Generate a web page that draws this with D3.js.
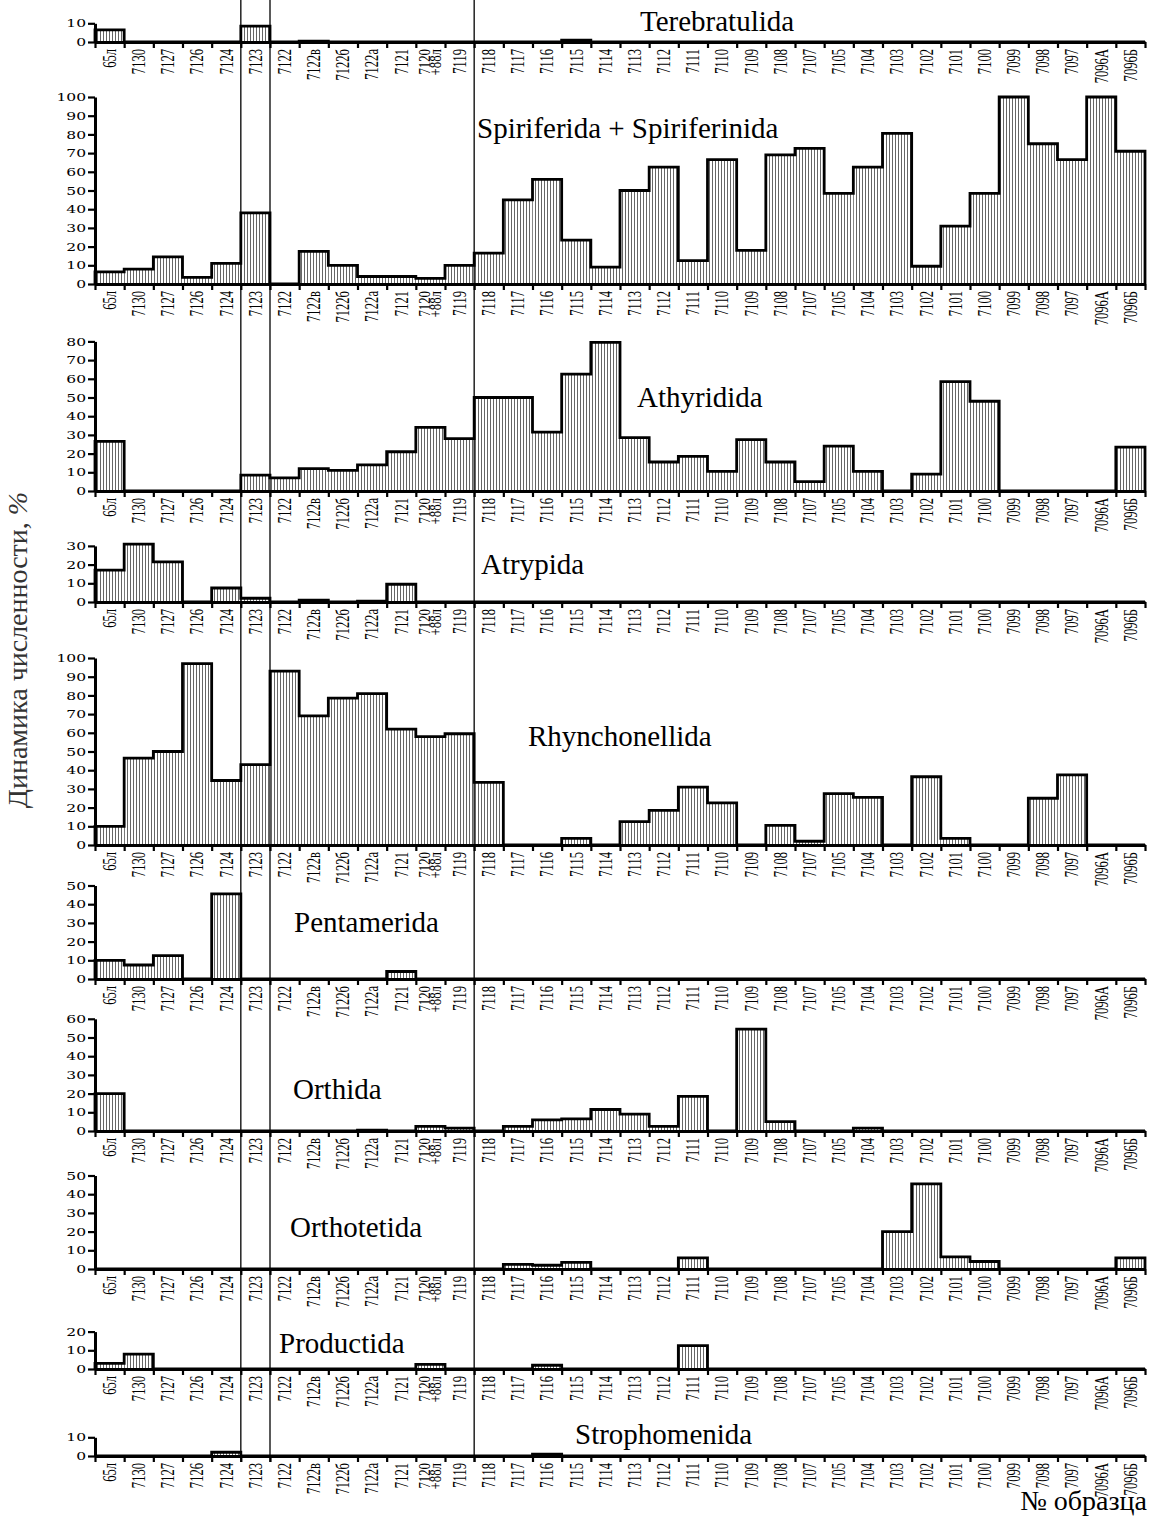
<!DOCTYPE html>
<html>
<head>
<meta charset="utf-8">
<script src="https://cdn.jsdelivr.net/npm/d3@7"></script>
<style>
  body { margin: 0; background: #fff; }
  svg { display: block; }
  .xaxis .domain { stroke-width: 3; }
  .xaxis .tick line { stroke-width: 2.2; }
  .yaxis .domain { stroke-width: 3; }
  .yaxis .tick line { stroke-width: 2.2; }
</style>
</head>
<body>
<div id="chart"></div>
<script>
// номера образцов
const samples = ["65л", "7130", "7127", "7126", "7124", "7123", "7122", "7122в", "7122б", "7122а",
  "7121", "7120\n+88л", "7119", "7118", "7117", "7116", "7115", "7114", "7113", "7112",
  "7111", "7110", "7109", "7108", "7107", "7105", "7104", "7103", "7102", "7101",
  "7100", "7099", "7098", "7097", "7096А", "7096Б"];

// доля отряда, %
const terebratulida = [6.5, 0, 0, 0, 0, 8.5, 0, 0.5, 0, 0, 0, 0, 0, 0, 0, 0, 1, 0, 0, 0,
  0, 0, 0, 0, 0, 0, 0, 0, 0, 0, 0, 0, 0, 0, 0, 0];
const spiriferida = [6.5, 8, 14.5, 3.5, 11, 38, 0, 17.5, 10, 4, 4, 3, 10, 16.5, 45, 56, 23.5, 9, 50, 62.5,
  12.5, 66.5, 18, 69, 72.5, 48.5, 62.5, 80.5, 9.5, 31, 48.5, 100, 75, 66.5, 100, 71];
const athyridida = [26.5, 0, 0, 0, 0, 8.5, 7, 12, 11, 14, 21, 34, 28, 50, 50, 31.5, 62.5, 79.5, 28.5, 15.5,
  18.5, 10.5, 27.5, 15.5, 5, 24, 10.5, 0, 9, 58.5, 48, 0, 0, 0, 0, 23.5];
const atrypida = [17, 31, 21.5, 0, 7.5, 2, 0, 1, 0, 0.5, 9.5, 0, 0, 0, 0, 0, 0, 0, 0, 0,
  0, 0, 0, 0, 0, 0, 0, 0, 0, 0, 0, 0, 0, 0, 0, 0];
const rhynchonellida = [10, 46.5, 50, 97, 34.5, 43, 93, 69, 78.5, 81, 62, 58, 59.5, 33.5, 0, 0, 3.5, 0, 12.5, 18.5,
  31, 22.5, 0, 10.5, 2, 27.5, 25.5, 0, 36.5, 3.5, 0, 0, 25, 37.5, 0, 0];
const pentamerida = [10, 7.5, 12.5, 0, 45.5, 0, 0, 0, 0, 0, 4, 0, 0, 0, 0, 0, 0, 0, 0, 0,
  0, 0, 0, 0, 0, 0, 0, 0, 0, 0, 0, 0, 0, 0, 0, 0];
const orthida = [20, 0, 0, 0, 0, 0, 0, 0, 0, 0.5, 0, 2.5, 1.5, 0, 2.5, 6, 6.5, 11.5, 9, 2.5,
  18.5, 0, 54.5, 5, 0, 0, 1.5, 0, 0, 0, 0, 0, 0, 0, 0, 0];
const orthotetida = [0, 0, 0, 0, 0, 0, 0, 0, 0, 0, 0, 0, 0, 0, 2.5, 2, 3.5, 0, 0, 0,
  6, 0, 0, 0, 0, 0, 0, 20, 45.5, 6.5, 4, 0, 0, 0, 0, 6];
const productida = [3, 8, 0, 0, 0, 0, 0, 0, 0, 0, 0, 2.5, 0, 0, 0, 2, 0, 0, 0, 0,
  12.5, 0, 0, 0, 0, 0, 0, 0, 0, 0, 0, 0, 0, 0, 0, 0];
const strophomenida = [0, 0, 0, 0, 2, 0, 0, 0, 0, 0, 0, 0, 0, 0, 0, 1, 0, 0, 0, 0,
  0, 0, 0, 0, 0, 0, 0, 0, 0, 0, 0, 0, 0, 0, 0, 0];

const orderNames = ["Terebratulida", "Spiriferida + Spiriferinida", "Athyridida", "Atrypida",
  "Rhynchonellida", "Pentamerida", "Orthida", "Orthotetida", "Productida", "Strophomenida"];
const orderValues = [terebratulida, spiriferida, athyridida, atrypida, rhynchonellida,
  pentamerida, orthida, orthotetida, productida, strophomenida];
const axisMax = [10, 100, 80, 30, 100, 50, 60, 50, 20, 10];
// границы пачек (индекс образца)
const boundaries = [5, 6, 13];

// layout
const width = 1155, height = 1521;
const baselines = [42, 284, 491, 602, 845, 979, 1131, 1269, 1369, 1456];
const titlePos = [[640, 31], [477, 138], [637, 407], [481, 574], [528, 746],
  [294, 932], [293, 1099], [290, 1237], [279, 1353], [575, 1444]];
const pxPerUnit = 1.87;

const svg = d3.select("#chart").append("svg")
  .attr("width", width)
  .attr("height", height)
  .style("font-family", "'Liberation Serif', 'Times New Roman', serif");

const defs = svg.append("defs");
const pattern = defs.append("pattern")
  .attr("id", "hatch")
  .attr("patternUnits", "userSpaceOnUse")
  .attr("width", 3)
  .attr("height", 10);
pattern.append("line")
  .attr("x1", 1.5).attr("x2", 1.5)
  .attr("y1", 0).attr("y2", 10)
  .attr("stroke", "#555")
  .attr("stroke-width", 0.9);

const x = d3.scaleBand().domain(samples).range([95, 1145]);
const xEdge = d3.scaleLinear().domain([0, samples.length]).range([95, 1145]);

orderValues.forEach((values, i) => {
  const base = baselines[i];
  const y = d3.scaleLinear()
    .domain([0, axisMax[i]])
    .range([base, base - axisMax[i] * pxPerUnit]);

  const g = svg.append("g").attr("class", "panel");

  const rows = values.map((v, j) => ({ s: samples[j], v: v }));

  // заштрихованные столбцы
  g.selectAll("rect")
    .data(rows.filter((d) => d.v > 0))
    .join("rect")
    .attr("x", (d) => x(d.s))
    .attr("y", (d) => y(d.v))
    .attr("width", x.bandwidth())
    .attr("height", (d) => y(0) - y(d.v))
    .attr("fill", "url(#hatch)");

  // ступенчатый контур
  const pts = [[xEdge(0), y(0)]];
  rows.forEach((d) => {
    pts.push([x(d.s), y(d.v)], [x(d.s) + x.bandwidth(), y(d.v)]);
  });
  pts.push([xEdge(samples.length), y(0)]);
  g.append("path")
    .attr("d", d3.line()(pts))
    .attr("fill", "none")
    .attr("stroke", "#000")
    .attr("stroke-width", 2.8)
    .attr("stroke-linejoin", "miter");

  // ось X
  g.append("g")
    .attr("class", "xaxis")
    .attr("transform", `translate(0,${base})`)
    .call(d3.axisBottom(xEdge)
      .tickValues(d3.range(samples.length + 1))
      .tickFormat("")
      .tickSize(6)
      .tickSizeOuter(0));

  const labels = g.selectAll("text.xl")
    .data(samples)
    .join("text")
    .attr("class", "xl")
    .attr("transform", (d) =>
      `translate(${x(d) + x.bandwidth() / 2},${base + 7}) rotate(-90) scale(${d.includes("\n") ? 0.8 : 0.7},1)`)
    .attr("text-anchor", "end")
    .attr("font-size", 18);
  labels.each(function (d) {
    const parts = d.split("\n");
    const t = d3.select(this);
    if (parts.length === 1) {
      t.attr("dy", "0.35em").text(d);
    } else {
      t.attr("font-size", 16);
      t.append("tspan").attr("x", 0).attr("dy", "0em").text(parts[0]);
      t.append("tspan").attr("x", 0).attr("dy", "0.68em").text(parts[1]);
    }
  });

  // ось Y
  const yAxis = g.append("g")
    .attr("class", "yaxis")
    .attr("transform", `translate(95,0)`)
    .call(d3.axisLeft(y)
      .tickValues(d3.range(0, axisMax[i] + 1, 10))
      .tickSize(7)
      .tickSizeOuter(0));
  yAxis.selectAll(".tick text")
    .attr("font-family", "'DejaVu Serif', serif")
    .attr("font-size", 11.5)
    .attr("fill", "#000")
    .attr("transform", "scale(1.35,1)")
    .attr("x", -9 / 1.35);

  // название отряда
  svg.append("text")
    .attr("x", titlePos[i][0])
    .attr("y", titlePos[i][1])
    .attr("font-size", 29)
    .text(orderNames[i]);
});

// вертикальные линии границ
svg.selectAll("line.bound")
  .data(boundaries)
  .join("line")
  .attr("class", "bound")
  .attr("x1", (d) => xEdge(d))
  .attr("x2", (d) => xEdge(d))
  .attr("y1", 0)
  .attr("y2", baselines[baselines.length - 1] + 6)
  .attr("stroke", "#000")
  .attr("stroke-width", 1.3);

// подписи осей
const yLabel = svg.append("text")
  .attr("transform", "translate(27,650) rotate(-90)")
  .attr("text-anchor", "middle")
  .attr("font-family", "'Liberation Serif', serif")
  .attr("font-size", 28)
  .attr("fill", "#333");
yLabel.append("tspan").text("Динамика численности, ");
yLabel.append("tspan").attr("font-style", "italic").text("%");

svg.append("text")
  .attr("x", 1147)
  .attr("y", 1510)
  .attr("text-anchor", "end")
  .attr("font-size", 28)
  .text("№ образца");
</script>
</body>
</html>
